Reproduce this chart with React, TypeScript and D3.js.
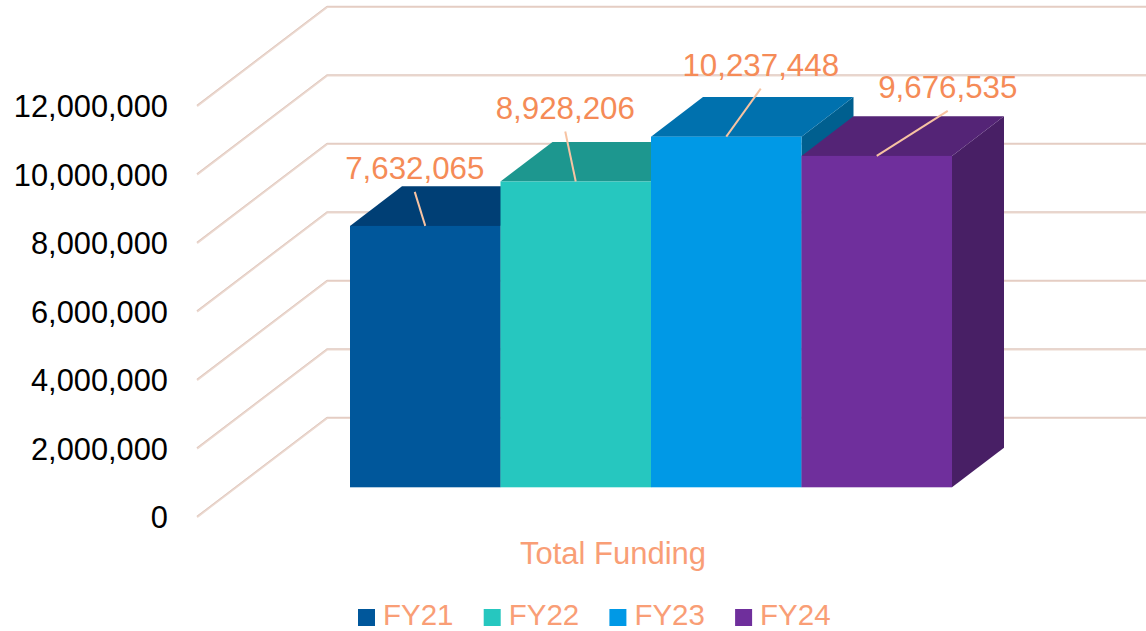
import React from "react";
import * as d3 from "d3";

const categories = ["FY21", "FY22", "FY23", "FY24"];
const values = [7632065, 8928206, 10237448, 9676535];
const tickValues = [0, 2000000, 4000000, 6000000, 8000000, 10000000, 12000000];
const groupLabel = "Total Funding";

const frontColors = ["#00579b", "#26c7bf", "#0099e6", "#6f2f9c"];
const topColors = ["#003f75", "#1d978f", "#0071ae", "#542476"];
const sideColors = ["#00335f", "#177a74", "#005f8f", "#481f65"];
// label offsets (dx, dy of label baseline from bar front-top centre)
const labelOffsets: [number, number][] = [[-10.5, -47], [-10.5, -63], [34.5, -61], [71, -58]];

const W = 1146;
const H = 631;
const originX = 197;
const floorFrontY = 517;
const depthDX = 130;
const depthDY = -99;
const barDepth0 = 0.3;
const barDepth1 = 0.7;

export default function App() {
  const y = d3.scaleLinear().domain([0, 12000000]).range([floorFrontY, 106]);
  const x = d3.scaleBand<string>().domain(categories).range([311, 913]).padding(0);
  const fmt = d3.format(",");
  const h = (v: number) => y(0) - y(v);

  const f0x = barDepth0 * depthDX, f0y = barDepth0 * depthDY;
  const f1x = barDepth1 * depthDX, f1y = barDepth1 * depthDY;
  const bdx = f1x - f0x, bdy = f1y - f0y;

  const fontFamily = "'Liberation Sans', Arial, sans-serif";

  return (
    <svg width={W} height={H} style={{ position: "absolute", left: 0, top: 0, background: "#fff" }} fontFamily={fontFamily}>
      {/* gridlines */}
      {tickValues.map((t) => {
        const yf = y(t);
        const yb = yf + depthDY;
        const pts = `${originX},${yf} ${originX + depthDX},${yb} ${W},${yb}`;
        return (
          <g key={"g" + t}>
            <polyline points={pts} fill="none" stroke="#ecd9d0" strokeWidth={2.2} />
            <polyline points={pts} fill="none" stroke="#d8c0b6" strokeWidth={0.6} transform="translate(0,-0.8)" />
          </g>
        );
      })}
      {/* axis labels */}
      {tickValues.map((t) => (
        <text key={"t" + t} x={168} y={y(t) + 11} textAnchor="end" fontSize={30.8} fill="#000">
          {fmt(t)}
        </text>
      ))}
      {/* bars */}
      {categories.map((c, i) => {
        const v = values[i];
        const xl = (x(c) as number) + f0x;
        const xr = xl + x.bandwidth();
        const yb = floorFrontY + f0y;
        const yt = yb - h(v);
        const side = `${xr},${yt} ${xr + bdx},${yt + bdy} ${xr + bdx},${yb + bdy} ${xr},${yb}`;
        const top = `${xl},${yt} ${xr},${yt} ${xr + bdx},${yt + bdy} ${xl + bdx},${yt + bdy}`;
        return (
          <g key={c}>
            <polygon points={side} fill={sideColors[i]} />
            <polygon points={top} fill={topColors[i]} />
            <rect x={xl} y={yt} width={x.bandwidth()} height={yb - yt} fill={frontColors[i]} />
          </g>
        );
      })}
      {/* data labels */}
      {categories.map((c, i) => {
        const v = values[i];
        const xl = (x(c) as number) + f0x;
        const cx = xl + x.bandwidth() / 2;
        const yt = floorFrontY + f0y - h(v);
        const lx = cx + labelOffsets[i][0];
        const ly = yt + labelOffsets[i][1];
        return (
          <g key={"l" + c}>
            <line x1={lx} y1={ly + 13} x2={cx} y2={yt} stroke="#f7c3a2" strokeWidth={2} />
            <text x={lx} y={ly} textAnchor="middle" fontSize={31.3} fill="#f58b57">
              {fmt(v)}
            </text>
          </g>
        );
      })}
      {/* category label */}
      <text x={613} y={564} textAnchor="middle" fontSize={31} fill="#f99e76">
        {groupLabel}
      </text>
      {/* legend */}
      {categories.map((c, i) => {
        const lx = 358 + i * 125.7;
        return (
          <g key={"leg" + c}>
            <rect x={lx} y={609} width={17} height={17} fill={frontColors[i]} />
            <text x={lx + 25} y={625} fontSize={29.5} fill="#f99e76">
              {c}
            </text>
          </g>
        );
      })}
    </svg>
  );
}
